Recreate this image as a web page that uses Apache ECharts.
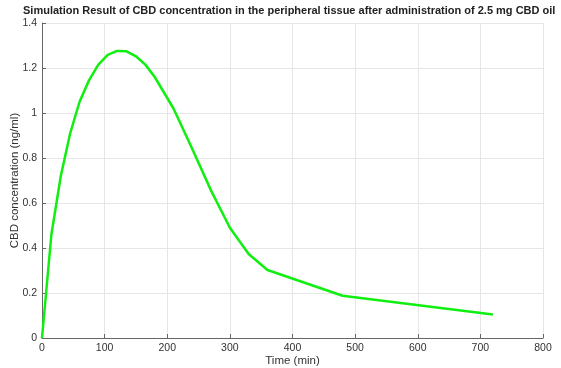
<!DOCTYPE html>
<html>
<head>
<meta charset="utf-8">
<script src="https://cdn.jsdelivr.net/npm/echarts@6/dist/echarts.min.js"></script>
<style>
  html, body { margin: 0; padding: 0; background: #fff; }
  #main { width: 561px; height: 368px; }
</style>
</head>
<body>
<div id="main"></div>
<script>
const times = [0, 15, 30, 45, 60, 75, 90, 105, 120, 135, 150, 165, 180, 210, 240, 270, 300, 330, 360, 480, 720];
const conc = [0, 0.46, 0.72, 0.91, 1.05, 1.145, 1.215, 1.258, 1.276, 1.274, 1.252, 1.215, 1.16, 1.02, 0.84, 0.655, 0.49, 0.373, 0.302, 0.188, 0.104];

const chart = echarts.init(document.getElementById('main'));
const axisCol = '#666';
const textCol = '#333';

chart.setOption({
  backgroundColor: '#fff',
  animation: false,
  title: {
    text: 'Simulation Result of CBD concentration in the peripheral tissue after administration of 2.5 mg CBD oil',
    left: 23,
    top: 5,
    padding: 0,
    textStyle: { fontFamily: 'Liberation Sans, Arial', fontSize: 11, fontWeight: 'bold', color: '#222' }
  },
  grid: { left: 42, right: 18, top: 23, bottom: 30, outerBoundsMode: 'none', containLabel: false },
  xAxis: {
    type: 'value',
    min: 0, max: 800, interval: 100,
    name: 'Time (min)',
    nameLocation: 'middle',
    nameGap: 17,
    nameMoveOverlap: false,
    nameTextStyle: { fontFamily: 'Liberation Sans, Arial', fontSize: 11.5, color: textCol },
    axisLine: { lineStyle: { color: axisCol } },
    axisTick: { inside: true, length: 4, lineStyle: { color: axisCol } },
    axisLabel: { fontFamily: 'Liberation Sans, Arial', fontSize: 10.5, color: textCol, margin: 5 },
    splitLine: { show: true, lineStyle: { color: '#e6e6e6' } }
  },
  yAxis: {
    type: 'value',
    min: 0, max: 1.4, interval: 0.2,
    name: 'CBD concentration (ng/ml)',
    nameLocation: 'middle',
    nameGap: 21,
    nameMoveOverlap: false,
    nameTextStyle: { fontFamily: 'Liberation Sans, Arial', fontSize: 11.5, color: textCol },
    axisLine: { show: true, lineStyle: { color: axisCol } },
    axisTick: { show: true, inside: true, length: 4, lineStyle: { color: axisCol } },
    axisLabel: {
      fontFamily: 'Liberation Sans, Arial', fontSize: 10.5, color: textCol, margin: 5,
      formatter: v => String(Math.round(v * 10) / 10)
    },
    splitLine: { show: true, lineStyle: { color: '#e6e6e6' } }
  },
  series: [{
    type: 'line',
    data: times.map((t, i) => [t, conc[i]]),
    showSymbol: false,
    lineStyle: { color: '#11ee11', width: 2.5 }
  }]
});
</script>
</body>
</html>
